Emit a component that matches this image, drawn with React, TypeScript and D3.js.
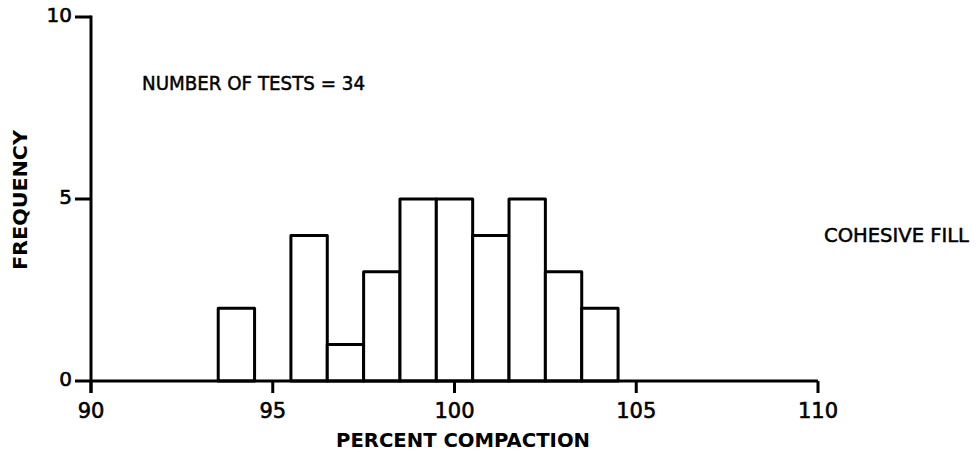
import * as d3 from "d3";

const binCenters = [94, 96, 97, 98, 99, 100, 101, 102, 103, 104];
const frequency = [2, 4, 1, 3, 5, 5, 4, 5, 3, 2];
const xTicks = [90, 95, 100, 105, 110];
const yTicks = [0, 5, 10];
const font = "'DejaVu Sans', sans-serif";

const x = d3.scaleLinear().domain([90, 110]).range([91, 818]);
const y = d3.scaleLinear().domain([0, 10]).range([381, 17]);

export default function App() {
  return (
    <svg
      width={980}
      height={452}
      style={{ position: "absolute", left: 0, top: 0, background: "#fff" }}
    >
      <g fill="#fff" stroke="#000" strokeWidth={3} strokeLinejoin="round">
        {binCenters.map((c, i) => (
          <rect
            key={c}
            x={x(c - 0.5)}
            y={y(frequency[i])}
            width={x(c + 0.5) - x(c - 0.5)}
            height={y(0) - y(frequency[i])}
          />
        ))}
      </g>

      {/* axes */}
      <g stroke="#000" strokeWidth={3} fill="none">
        <line x1={x(90)} x2={x(110)} y1={y(0)} y2={y(0)} />
        <line x1={x(90)} x2={x(90)} y1={y(0) + 12} y2={y(10) - 1.5} />
        {xTicks.map((t) => (
          <line key={t} x1={x(t)} x2={x(t)} y1={y(0)} y2={y(0) + 12} />
        ))}
        {yTicks.map((t) => (
          <line key={t} x1={x(90) - 16} x2={x(90)} y1={y(t)} y2={y(t)} />
        ))}
      </g>

      <g fontFamily={font} fill="#000" stroke="#000" strokeWidth={0.6}>
        {xTicks.map((t) => (
          <text key={t} x={x(t)} y={y(0) + 37} fontSize={21} textAnchor="middle">
            {t}
          </text>
        ))}
        {yTicks.map((t) => (
          <text key={t} x={72} y={y(t) + 5} fontSize={20} textAnchor="end">
            {t}
          </text>
        ))}
      </g>

      <g fontFamily={font} fill="#000">
        <text
          x={142}
          y={90}
          fontSize={20}
          stroke="#000"
          strokeWidth={0.5}
          textLength={223}
          lengthAdjust="spacingAndGlyphs"
        >
          NUMBER OF TESTS = 34
        </text>
        <text
          x={824}
          y={242}
          fontSize={19}
          stroke="#000"
          strokeWidth={0.5}
          textLength={145}
          lengthAdjust="spacingAndGlyphs"
        >
          COHESIVE FILL
        </text>
        <text
          x={336}
          y={447}
          fontSize={20}
          fontWeight="bold"
          textLength={254}
          lengthAdjust="spacingAndGlyphs"
        >
          PERCENT COMPACTION
        </text>
        <text
          transform="translate(27,270) rotate(-90)"
          fontSize={20}
          fontWeight="bold"
          textLength={140}
          lengthAdjust="spacingAndGlyphs"
        >
          FREQUENCY
        </text>
      </g>
    </svg>
  );
}
